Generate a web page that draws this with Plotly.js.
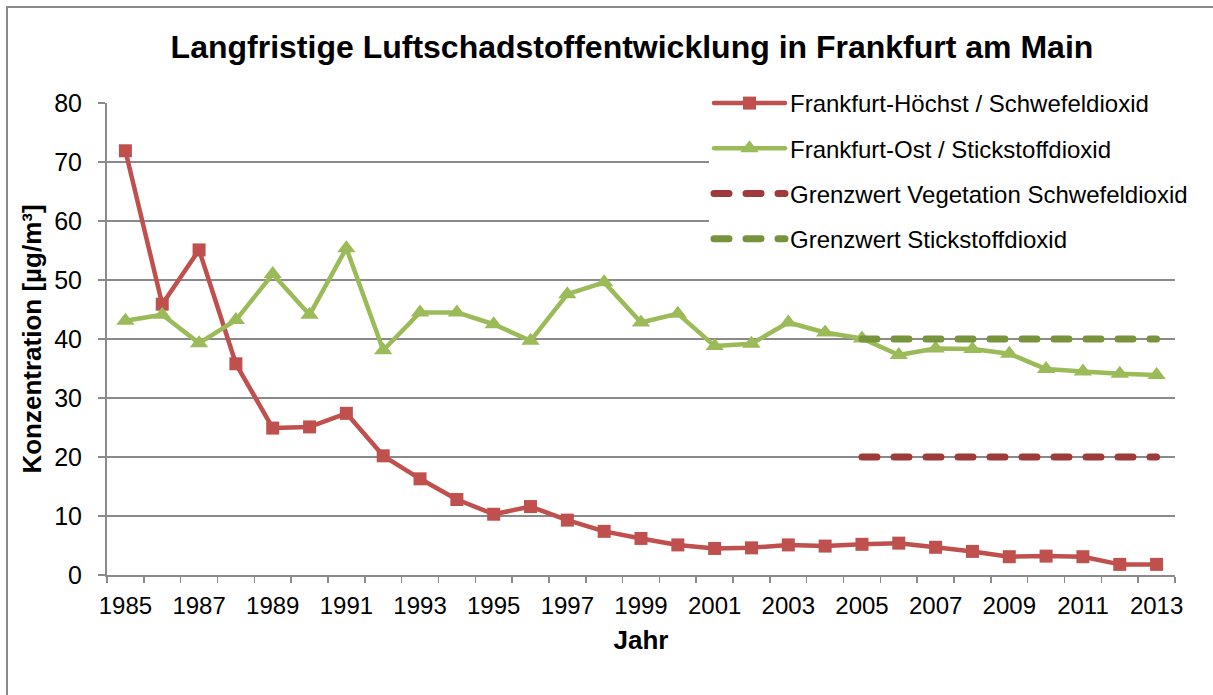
<!DOCTYPE html>
<html>
<head>
<meta charset="utf-8">
<script src="https://cdn.plot.ly/plotly-3.0.1.min.js"></script>
<style>
  html, body { margin: 0; padding: 0; background: #fff; }
  #chart { width: 1213px; height: 695px; }
  .scatterlayer .js-line, .legendlines path { stroke-linecap: round; stroke-linejoin: round; }
</style>
</head>
<body>
<div id="chart"></div>
<script>
// ---- data ----
const years = [1985,1986,1987,1988,1989,1990,1991,1992,1993,1994,1995,1996,1997,1998,1999,
               2000,2001,2002,2003,2004,2005,2006,2007,2008,2009,2010,2011,2012,2013];
const so2Hoechst = [71.9,45.9,55.1,35.8,24.9,25.1,27.4,20.2,16.3,12.8,10.3,11.6,9.3,7.4,6.2,
                    5.1,4.5,4.6,5.1,4.9,5.2,5.4,4.7,4.0,3.1,3.2,3.1,1.8,1.8];
const no2Ost = [43.1,44.1,39.3,43.2,51.0,44.1,55.4,38.1,44.5,44.5,42.5,39.7,47.6,49.6,42.8,
                44.3,38.8,39.2,42.8,41.1,40.1,37.3,38.4,38.3,37.5,34.9,34.5,34.1,33.9];
const limitYears = [2005,2006,2007,2008,2009,2010,2011,2012,2013];
const so2Limit = [20,20,20,20,20,20,20,20,20];
const no2Limit = [40,40,40,40,40,40,40,40,40];
const xTickYears = [1985,1987,1989,1991,1993,1995,1997,1999,2001,2003,2005,2007,2009,2011,2013];
const yTicks = [0,10,20,30,40,50,60,70,80];

const names = ['Frankfurt-Höchst / Schwefeldioxid','Frankfurt-Ost / Stickstoffdioxid',
               'Grenzwert Vegetation Schwefeldioxid','Grenzwert Stickstoffdioxid'];

const FONT = 'Liberation Sans';
const GRID = '#8a8a8a';

const traces = [
  { x: years, y: so2Hoechst, name: names[0], type: 'scatter', mode: 'lines+markers',
    legendgroup: 'a',
    line: { color: '#C0504D', width: 4.5 },
    marker: { symbol: 'square', size: 13, color: '#C0504D' } },
  { x: years, y: no2Ost, name: names[1], type: 'scatter', mode: 'lines+markers',
    legendgroup: 'b',
    line: { color: '#9BBB59', width: 4.5 },
    marker: { symbol: 'triangle-up', size: 16, color: '#9BBB59' } },
  { x: limitYears, y: so2Limit, name: names[2], type: 'scatter', mode: 'lines',
    legendgroup: 'c',
    line: { color: '#9C3B39', width: 7, dash: '15px,17px' } },
  { x: limitYears, y: no2Limit, name: names[3], type: 'scatter', mode: 'lines',
    legendgroup: 'd',
    line: { color: '#77933C', width: 7, dash: '15px,17px' } }
];

const L = 107, R = 1175, T = 103, B = 575;
const W = R - L, H = B - T;
const px = v => (v - L) / W;
const py = v => (B - v) / H;

const layout = {
  width: 1213, height: 695,
  margin: { l: L, r: 1213 - R, t: T, b: 695 - B, pad: 0 },
  paper_bgcolor: '#fff', plot_bgcolor: '#fff',
  font: { family: FONT, color: '#000', size: 24 },
  showlegend: true,
  title: { text: '<b>Langfristige Luftschadstoffentwicklung in Frankfurt am Main</b>',
           font: { family: FONT, size: 32, color: '#000' },
           x: 0.521, xanchor: 'center', y: 1 - 47/695, yanchor: 'middle' },
  xaxis: {
    range: [1984.5, 2013.5], type: 'linear',
    tickmode: 'array', tickvals: xTickYears, ticktext: xTickYears.map(String),
    ticks: '', showgrid: false, zeroline: false,
    showline: true, linecolor: GRID, linewidth: 2,
    tickfont: { family: FONT, size: 24, color: '#000' },
    ticklabelstandoff: 8,
    minor: { tick0: 1984.5, dtick: 1, ticks: 'outside', ticklen: 6, tickcolor: GRID, tickwidth: 1.5, showgrid: false },
    title: { text: '<b>Jahr</b>', font: { family: FONT, size: 26, color: '#000' }, standoff: 13 }
  },
  yaxis: {
    range: [0, 80], tickvals: yTicks, ticktext: yTicks.map(String),
    ticks: 'outside', ticklen: 7, tickcolor: GRID, tickwidth: 1.5,
    showgrid: true, gridcolor: GRID, gridwidth: 1.8,
    zeroline: false, showline: true, linecolor: GRID, linewidth: 2,
    tickfont: { family: FONT, size: 25, color: '#000' },
    ticklabelstandoff: 11,
    title: { text: '<b>Konzentration [µg/m³]</b>', font: { family: FONT, size: 26, color: '#000' }, standoff: 5 }
  },
  legend: {
    x: px(709), y: py(81), xanchor: 'left', yanchor: 'top',
    bgcolor: '#fff', borderwidth: 0,
    font: { family: FONT, size: 24, color: '#000' },
    traceorder: 'grouped', tracegroupgap: 11, itemwidth: 71
  },
  shapes: [
    { type: 'rect', xref: 'paper', yref: 'paper', layer: 'below',
      x0: px(7), x1: px(1230), y0: py(715), y1: py(7),
      line: { color: '#8a8a8a', width: 2 }, fillcolor: 'rgba(0,0,0,0)' }
  ]
};

Plotly.newPlot('chart', traces, layout, { staticPlot: true, displayModeBar: false });
</script>
</body>
</html>
